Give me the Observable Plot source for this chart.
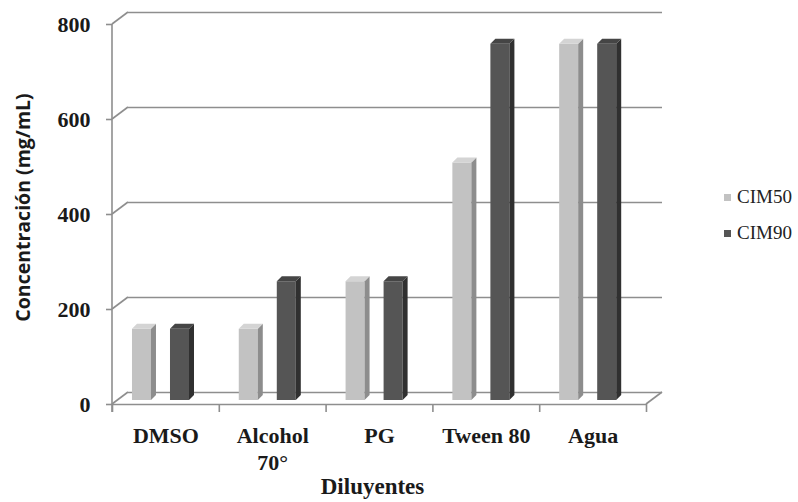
<!DOCTYPE html>
<html><head><meta charset="utf-8">
<script src="https://cdn.jsdelivr.net/npm/d3@7"></script>
<script src="https://cdn.jsdelivr.net/npm/@observablehq/plot@0.6"></script>
<style>
body{margin:0;background:#fff;}
#wrap{position:relative;width:798px;height:502px;}
#legend{position:absolute;left:724px;top:185px;font-family:"Liberation Serif",serif;font-size:19px;color:#222;}
#legend .row{display:flex;align-items:center;height:24px;margin-bottom:12px;}
#legend .sw{width:7px;height:7px;margin-right:6px;}
</style></head><body><div id="wrap"></div>
<script>
const categories = ["DMSO", "Alcohol\n70°", "PG", "Tween 80", "Agua"];
const series = ["CIM50", "CIM90"];
const cim50 = [150, 150, 250, 500, 750];
const cim90 = [150, 250, 250, 750, 750];
const yTicks = [0, 200, 400, 600, 800];

const rows = categories.flatMap((c, i) => [
  {cat: c, i, series: "CIM50", value: cim50[i]},
  {cat: c, i, series: "CIM90", value: cim90[i]}
]);

// layout / style constants
const barOffset = {CIM50: 0.187, CIM90: 0.543};
const barW = 0.178;
const frontCol = {CIM50: "#c2c2c2", CIM90: "#555555"};
const sideCol = {CIM50: "#8d8d8d", CIM90: "#303030"};
const topCol = {CIM50: "#d4d4d4", CIM90: "#454545"};
const depthX = 16, depthY = 12;
const barDX = 5, barDY = 5, barLift = 4;
const gridColor = "#8e8e8e";
const n = categories.length;

const chart = Plot.plot({
  width: 798, height: 502,
  marginLeft: 112, marginRight: 152, marginTop: 24, marginBottom: 98,
  style: {fontFamily: "Liberation Serif", fontSize: "22px", fontWeight: "bold", color: "#1a1a1a", background: "#fff"},
  x: {type: "linear", domain: [0, n], ticks: d3.range(n + 1), tickFormat: () => "", tickSize: 8, label: null},
  y: {domain: [0, 800], ticks: yTicks, tickSize: 6, tickPadding: 16, label: null, tickFormat: d => String(d)},
  color: {domain: series, range: series.map(s => frontCol[s])},
  marks: [
    Plot.ruleY(yTicks, {x1: 0, x2: n, dx: depthX, dy: -depthY, stroke: gridColor, strokeWidth: 1.6}),
    Plot.ruleY([0], {x1: 0, x2: n, stroke: gridColor, strokeWidth: 1.6}),
    Plot.rectY(rows, {
      x1: d => d.i + barOffset[d.series],
      x2: d => d.i + barOffset[d.series] + barW,
      y1: 0, y2: "value", fill: "series", dy: -barLift
    }),
    Plot.text(categories, {x: (d, i) => i + 0.5, y: () => 0, lineAnchor: "top", dy: 20, lineHeight: 1.2, fill: "#1a1a1a"}),
    Plot.text(["Diluyentes"], {frameAnchor: "bottom", dy: 89, dx: -7, fontSize: 23, fill: "#1a1a1a"}),
    Plot.text(["Concentración (mg/mL)"], {frameAnchor: "left", textAnchor: "middle", dx: -89, dy: -7, rotate: -90,
      fontFamily: "Open Sans", fontSize: 19.5, fontWeight: "bold", fill: "#1a1a1a"})
  ]
});

document.getElementById("wrap").appendChild(chart);

const sx = chart.scale("x"), sy = chart.scale("y");
const X = sx.apply ? v => sx.apply(v) : d3.scaleLinear(sx.domain, sx.range);
const Y = sy.apply ? v => sy.apply(v) : d3.scaleLinear(sy.domain, sy.range);
const svg = d3.select(chart);
svg.selectAll('g[aria-label="x-axis tick"] path, g[aria-label="y-axis tick"] path, g[aria-label="x-axis tick"], g[aria-label="y-axis tick"]')
  .attr("stroke", gridColor).attr("stroke-width", 1.6);
const g = svg.append("g").attr("stroke", gridColor).attr("stroke-width", 1.6).attr("fill", "none");
yTicks.forEach(t => g.append("line")
  .attr("x1", X(0)).attr("y1", Y(t)).attr("x2", X(0) + depthX).attr("y2", Y(t) - depthY));
g.append("line").attr("x1", X(n)).attr("y1", Y(0)).attr("x2", X(n) + depthX).attr("y2", Y(0) - depthY);
g.append("line").attr("x1", X(0)).attr("y1", Y(800)).attr("x2", X(0)).attr("y2", Y(0) + 8);

const fg = svg.append("g");
rows.forEach(d => {
  const x1 = X(d.i + barOffset[d.series]), x2 = X(d.i + barOffset[d.series] + barW);
  const y0 = Y(0) - barLift, yt = Y(d.value) - barLift;
  fg.append("path").attr("fill", sideCol[d.series])
    .attr("d", `M${x2},${yt}L${x2 + barDX},${yt - barDY}L${x2 + barDX},${y0 - barDY}L${x2},${y0}Z`);
  fg.append("path").attr("fill", topCol[d.series])
    .attr("d", `M${x1},${yt}L${x1 + barDX},${yt - barDY}L${x2 + barDX},${yt - barDY}L${x2},${yt}Z`);
});

const legend = d3.select("#wrap").append("div").attr("id", "legend");
series.forEach(s => {
  const r = legend.append("div").attr("class", "row");
  r.append("div").attr("class", "sw").style("background", frontCol[s]);
  r.append("span").text(s);
});
</script>
</body></html>
